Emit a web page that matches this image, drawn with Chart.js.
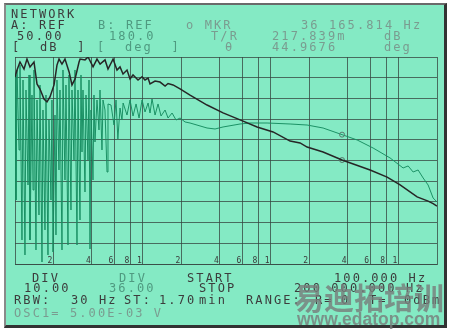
<!DOCTYPE html>
<html><head><meta charset="utf-8">
<script src="https://cdn.jsdelivr.net/npm/chart.js@4.4.1/dist/chart.umd.min.js"></script>
<style>
html,body{margin:0;padding:0;background:#fff;width:450px;height:330px;overflow:hidden;position:relative;}
#frame{position:absolute;left:4px;top:3px;width:438px;height:320px;background:#84eac4;border-style:solid;border-width:2px 3px 3px 2px;border-color:#6a6a6a #333 #333 #8a8a8a;}
#c{position:absolute;left:0;top:0;}
.t{position:absolute;font-family:'DejaVu Sans Mono',monospace;font-size:12px;line-height:12px;letter-spacing:2.1px;white-space:pre;color:#3c3c3c;}
.b{color:#4f9a80;}
.m{color:#7a9c90;}
.wm1{position:absolute;left:294px;top:281px;font-family:'Noto Sans CJK SC',sans-serif;font-weight:bold;font-size:30px;line-height:30px;color:rgba(120,124,122,0.8);white-space:pre;}
.wm2{position:absolute;left:297px;top:311px;font-family:'Liberation Sans',Arial,sans-serif;font-weight:bold;font-size:17.5px;line-height:17.5px;color:rgba(120,124,122,0.8);white-space:pre;}
</style></head>
<body>
<div id="frame"></div>
<canvas id="c" width="450" height="330"></canvas>

<div class="t" style="left:11px;top:8px">NETWORK</div>
<div class="t" style="left:11px;top:19px">A: REF</div>
<div class="t b" style="left:98px;top:19px">B: REF</div>
<div class="t m" style="left:186px;top:19px">o MKR</div>
<div class="t m" style="left:301px;top:19px">36 165.814 Hz</div>
<div class="t" style="left:17px;top:30px">50.00</div>
<div class="t b" style="left:109px;top:30px">180.0</div>
<div class="t m" style="left:211px;top:30px">T/R</div>
<div class="t m" style="left:272px;top:30px">217.839m    dB</div>
<div class="t" style="left:12px;top:41px">[  dB  ]</div>
<div class="t b" style="left:97px;top:41px">[  deg  ]</div>
<div class="t m" style="left:225px;top:41px">θ</div>
<div class="t m" style="left:272px;top:41px">44.9676     deg</div>

<div class="t" style="left:32px;top:272px">DIV</div>
<div class="t b" style="left:119px;top:272px">DIV</div>
<div class="t" style="left:187px;top:272px">START</div>
<div class="t" style="left:334px;top:272px">100.000 Hz</div>
<div class="t" style="left:24px;top:282px">10.00</div>
<div class="t b" style="left:109px;top:282px">36.00</div>
<div class="t" style="left:199px;top:282px">STOP</div>
<div class="t" style="left:294px;top:282px">200 000.000 Hz</div>
<div class="t" style="left:14px;top:294px">RBW:</div>
<div class="t" style="left:71px;top:294px">30 Hz</div>
<div class="t" style="left:124px;top:294px">ST:</div>
<div class="t" style="left:159px;top:294px">1.70</div>
<div class="t" style="left:199px;top:294px">min</div>
<div class="t" style="left:246px;top:294px">RANGE:</div>
<div class="t" style="left:315px;top:294px">R=</div>
<div class="t" style="left:341px;top:294px">0</div>
<div class="t" style="left:369px;top:294px">T=</div>
<div class="t" style="left:404px;top:294px">0dBm</div>
<div class="t m" style="left:14px;top:307px">OSC1= 5.00E-03 V</div>

<div class="wm1">易迪拓培训</div>
<div class="wm2">www.edatop.com</div>

<script>
// X axis (log frequency) tick positions and labels
const xTickValues = [100,200,400,600,800,1000,2000,4000,6000,8000,10000,20000,40000,60000,80000,100000,200000];
const xTickLabels = ['','2','4','6','8','1','2','4','6','8','1','2','4','6','8','1',''];

// Trace A: magnitude (dB)
const magFreq = [100,103.7,109.4,117.6,124.1,131.0,140.8,148.6,156.9,168.6,178.0,187.8,202,213,221,233,246,265,279,295,317,323,353,373,408,438,463,506,534,585,628,663,700,752,794,838,917,986,1040,1099,1138,1246,1363,1493,1575,1723,1955,2340,3179,4241,5763,7830,10440,14190,16980,19270,25700,36165.814,59960,81450,102900,139800,170400,186500,200000];
const magDb = [40.3,43.7,47.6,44.2,49.0,45.2,47.6,37.0,34.5,29.7,28.3,30.7,36.5,46.1,49.0,46.6,49.0,42.8,36.5,39.4,47.6,49.0,48.6,50.0,45.2,49.0,46.6,48.6,44.2,49.0,43.7,45.2,41.8,43.7,39.4,41.3,38.9,40.5,38.9,39.8,37.0,38.4,37.9,36.0,37.2,36.5,34.6,31.6,26.8,23.0,19.6,16.2,13.8,9.4,8.5,6.5,4.1,0.217839,-4.6,-8.0,-11.8,-17.6,-19.6,-20.8,-22.0];

// Trace B: phase (deg)
const phaseFreq = [100,101.8,103.7,107.5,109.4,113.4,115.5,119.7,121.9,126.4,128.7,131.0,135.8,138.3,140.8,145.9,148.6,154.0,156.8,162.6,165.5,171.6,174.7,181.1,184.4,191.2,194.6,198.2,205.5,209.2,213.0,220.8,224.8,233.1,237.3,246.0,250.5,259.7,264.4,274.1,279.1,289.4,294.6,305.4,311.0,322.4,328.3,334.2,340.3,352.8,359.2,372.4,379.2,386.1,393.1,407.5,414.9,422.4,437.9,454.0,462.2,479.2,487.9,505.8,524.4,533.9,563.6,594.9,617,637.7,663,687,701,752,794,838,885,934,986,1040,1099,1138,1180,1246,1315,1388,1492,1575,1693,1819,1955,2139,2340,3179,3672,4241,5763,6900,9371,14190,19270,25700,36165.814,47450,63290,85970,108600,118900,130100,142300,155800,170400,186500,200000];
const phaseDeg = [148.7,-68.7,157.4,18.3,166.1,-138.2,140.0,-164.3,122.6,-42.6,148.7,-138.2,113.9,-51.3,157.4,-155.6,105.2,-94.8,131.3,-176.5,87.8,-120.8,113.9,-164.3,70.4,-68.7,105.2,-159.1,79.1,-129.5,140.0,-16.5,122.6,-155.6,157.4,-33.9,131.3,-146.9,148.7,-86.1,122.6,0.9,157.4,-146.9,122.6,-103.5,148.7,14.8,122.6,-54.8,113.9,0.9,140.0,-153.9,87.8,-33.9,113.9,32.2,105.2,53.1,122.6,18.3,105.2,87.8,-20.0,98.3,96.5,61.7,105.2,37.4,91.3,70.4,100,79.1,105.2,77.4,98.3,73.9,105.2,84.4,100,82.6,107,79.1,98.3,77.4,87.8,73.9,82.6,70.4,73.9,67,65.2,56.5,54.8,58.3,63.5,65.2,65.2,63.5,61.7,56.5,44.9676,35.7,21.7,4.4,-13.0,-9.5,-20.0,-16.5,-30.4,-42.6,-65.2,-72.2];

// Marker readout
const markerFreq = [36165.814];
const markerMag = [0.217839];
const markerPhase = [44.9676];

const pts = (xs, ys) => xs.map((x, i) => ({x: x, y: ys[i]}));
const gridColor = 'rgba(55,72,66,0.78)';

new Chart(document.getElementById('c'), {
  type: 'line',
  data: {
    datasets: [
      {label: 'A', data: pts(magFreq, magDb), yAxisID: 'yA', borderColor: '#262626', borderWidth: 1.5, pointRadius: 0, tension: 0},
      {label: 'A marker', data: pts(markerFreq, markerMag), yAxisID: 'yA', showLine: false, pointRadius: 2.5, pointBorderWidth: 1, pointBorderColor: '#587a6e', pointBackgroundColor: 'rgba(0,0,0,0)'},
      {label: 'B marker', data: pts(markerFreq, markerPhase), yAxisID: 'yB', showLine: false, pointRadius: 2.5, pointBorderWidth: 1, pointBorderColor: '#587a6e', pointBackgroundColor: 'rgba(0,0,0,0)'},
      {label: 'B', data: pts(phaseFreq, phaseDeg), yAxisID: 'yB', borderColor: 'rgba(22,140,96,0.95)', borderWidth: 1, pointRadius: 0, tension: 0}
    ]
  },
  options: {
    responsive: false,
    animation: false,
    devicePixelRatio: 1,
    layout: {padding: {left: 15, right: 13, top: 57, bottom: 66}},
    plugins: {legend: {display: false}, tooltip: {enabled: false}},
    scales: {
      x: {
        type: 'logarithmic', min: 100, max: 200000, position: 'bottom',
        afterBuildTicks: s => { s.ticks = xTickValues.map(v => ({value: v})); },
        afterFit: s => { s.height = 0; },
        grid: {color: gridColor, lineWidth: 1, drawTicks: false},
        border: {display: true, color: gridColor},
        ticks: {autoSkip: false, maxRotation: 0, minRotation: 0, mirror: true, padding: -1.8, labelOffset: -3.5,
          color: '#3a3a3a', font: {family: 'DejaVu Sans Mono', size: 8},
          callback: (v, i) => xTickLabels[i]}
      },
      yA: {
        type: 'linear', position: 'left', min: -50, max: 50,
        afterFit: s => { s.width = 0; },
        ticks: {display: false, stepSize: 10},
        grid: {color: gridColor, lineWidth: 1, drawTicks: false},
        border: {display: false}
      },
      yB: {type: 'linear', position: 'right', min: -180, max: 180, display: false}
    }
  }
});
</script>
</body></html>
